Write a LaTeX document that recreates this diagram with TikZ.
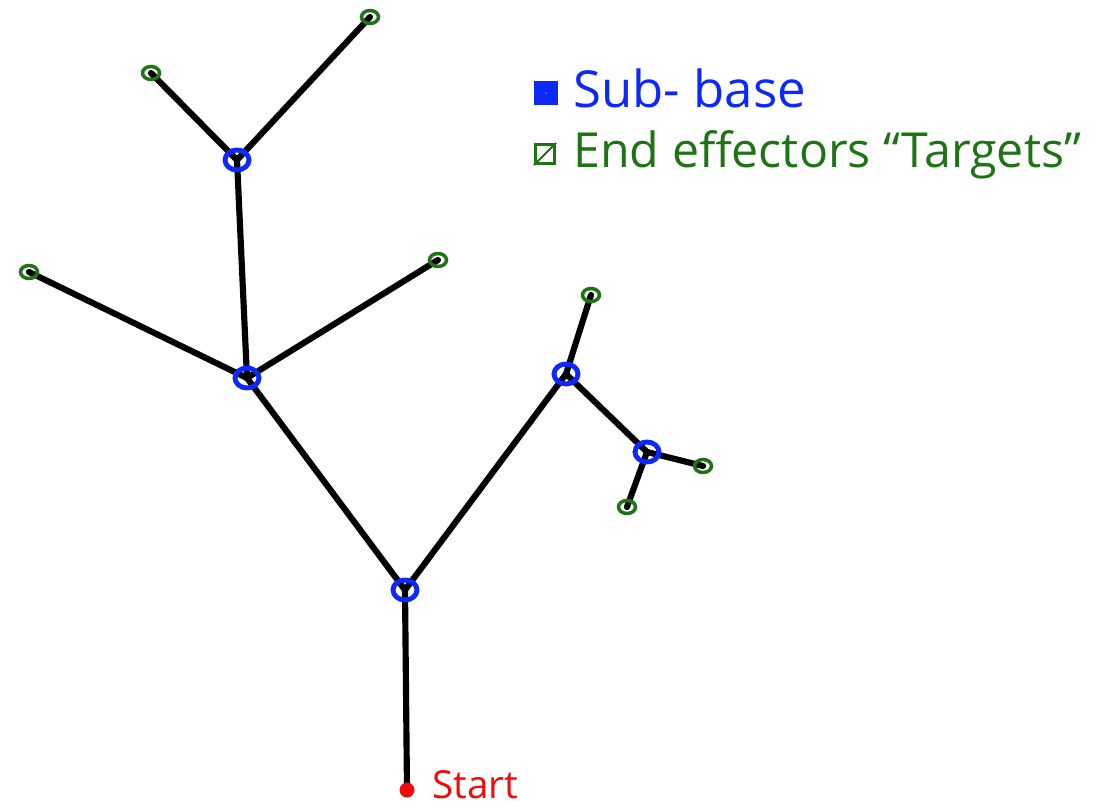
\documentclass[tikz,border=0pt]{standalone}
\usepackage{fontspec}
\setmainfont{Open Sans}
\usetikzlibrary{shapes.geometric}
\definecolor{subblue}{RGB}{12,40,250}
\definecolor{tgtgreen}{RGB}{30,115,20}
\definecolor{startred}{RGB}{240,10,10}
\begin{document}
\begin{tikzpicture}[x=0.02cm,y=-0.02cm,
  link/.style={line width=3.5pt,line cap=round,black},
  subbase/.style={ellipse,draw=subblue,line width=2.8pt,minimum width=0.48cm,minimum height=0.4cm,inner sep=0pt},
  target/.style={ellipse,draw=tgtgreen,line width=2pt,minimum width=0.34cm,minimum height=0.26cm,inner sep=0pt},
  legendtext/.style={anchor=base west,inner sep=0pt},
]
\useasboundingbox (0,0) rectangle (1109,805);
% tree joints
\coordinate (s) at (407,790);
\coordinate (b0) at (405,590);
\coordinate (b1) at (247,378);
\coordinate (b2) at (237,160);
\coordinate (b3) at (566,374);
\coordinate (b4) at (647,452);
% end effectors
\coordinate (t1) at (370,17);
\coordinate (t2) at (151,73);
\coordinate (t3) at (29,272);
\coordinate (t4) at (438,260);
\coordinate (t5) at (591,295);
\coordinate (t6) at (703,466);
\coordinate (t7) at (627,507);
% links
\draw[link] (s) -- (b0);
\draw[link] (b0) -- (b1);
\draw[link] (b0) -- (b3);
\draw[link] (b1) -- (b2);
\draw[link] (b1) -- (t3);
\draw[link] (b1) -- (t4);
\draw[link] (b2) -- (t1);
\draw[link] (b2) -- (t2);
\draw[link] (b3) -- (t5);
\draw[link] (b3) -- (b4);
\draw[link] (b4) -- (t6);
\draw[link] (b4) -- (t7);
% markers
\foreach \n in {b0,b1,b2,b3,b4} \node[subbase] (m\n) at (\n) {};
\foreach \n in {t1,t2,t3,t4,t5,t6,t7} \node[target] (m\n) at (\n) {};
\node[circle,fill=startred,minimum size=0.3cm,inner sep=0pt] (ms) at (s) {};
\node[anchor=base west,inner sep=0pt,text=startred,font=\fontsize{22}{24}\selectfont] (lstart) at (432,798) {Start};
% legend
\node[draw=subblue,fill=subblue,line width=1.2pt,minimum size=0.42cm,inner sep=0pt] (keyblue) at (546,93) {};
\draw[white,line width=0.8pt] ([shift={(-0.12,0.12)}]keyblue.center) -- ([shift={(0.12,-0.12)}]keyblue.center);
\draw[white,line width=0.8pt] ([shift={(-0.02,0.17)}]keyblue.center) -- ([shift={(0.17,-0.02)}]keyblue.center);
\node[legendtext,text=subblue,font=\fontsize{29}{32}\selectfont] (lblue) at (573,107) {Sub- base};
\node[draw=tgtgreen,line width=1.8pt,minimum size=0.38cm,inner sep=0pt] (keygreen) at (545,154) {};
\draw[tgtgreen,line width=1.1pt] (keygreen.south west) -- (keygreen.north east);
\draw[tgtgreen,line width=1.1pt] ([shift={(-0.19,0.02)}]keygreen.center) -- ([shift={(0.02,-0.19)}]keygreen.center);
\draw[tgtgreen,line width=1.1pt] ([shift={(-0.02,0.19)}]keygreen.center) -- ([shift={(0.19,-0.02)}]keygreen.center);
\node[legendtext,text=tgtgreen,font=\fontsize{27.5}{30}\selectfont] (lgreen) at (573,167) {End effectors “Targets”};
\end{tikzpicture}
\end{document}
